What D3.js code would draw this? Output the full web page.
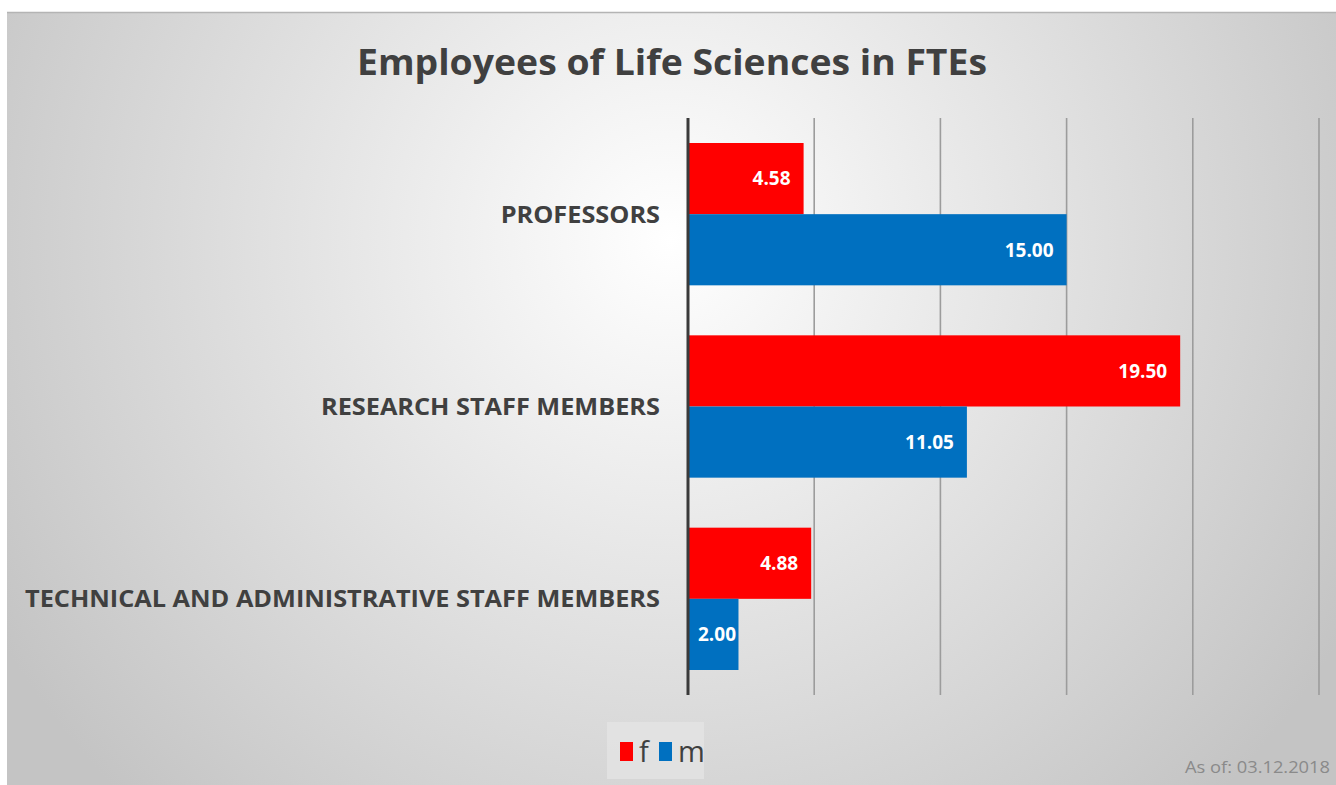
<!DOCTYPE html>
<html>
<head>
<meta charset="utf-8">
<script src="https://cdn.jsdelivr.net/npm/d3@7"></script>
<style>
  body { margin: 0; background: #fff; }
  svg { display: block; }
</style>
</head>
<body>
<svg id="chart"></svg>
<script>
// chart values
var categories = ['PROFESSORS', 'RESEARCH STAFF MEMBERS', 'TECHNICAL AND ADMINISTRATIVE STAFF MEMBERS'];
var seriesNames = ['f', 'm'];
var femaleValues = [4.58, 19.50, 4.88];
var maleValues = [15.00, 11.05, 2.00];
var gridTicks = [0, 5, 10, 15, 20, 25];
var colors = { f: '#ff0000', m: '#0070c0' };

var width = 1336, height = 785;
var svg = d3.select('#chart').attr('width', width).attr('height', height);
var textColor = '#404040';

// panel background, radial grey gradient
var defs = svg.append('defs');
var grad = defs.append('radialGradient')
  .attr('id', 'bg')
  .attr('gradientUnits', 'userSpaceOnUse')
  .attr('cx', 670).attr('cy', 240).attr('r', 780);
grad.append('stop').attr('offset', '0%').attr('stop-color', '#ffffff');
grad.append('stop').attr('offset', '100%').attr('stop-color', '#c4c4c4');

svg.append('rect')
  .attr('x', 7).attr('y', 12)
  .attr('width', width - 7).attr('height', height - 12)
  .attr('fill', 'url(#bg)');
svg.append('line')
  .attr('x1', 7).attr('x2', width).attr('y1', 12.5).attr('y2', 12.5)
  .attr('stroke', '#b4b4b4').attr('stroke-width', 1.5);

// title
svg.append('text')
  .attr('x', 672).attr('y', 75)
  .attr('text-anchor', 'middle')
  .attr('font-family', 'Open Sans, sans-serif')
  .attr('font-weight', 'bold')
  .attr('font-size', 36)
  .attr('fill', textColor)
  .attr('textLength', 630)
  .attr('lengthAdjust', 'spacingAndGlyphs')
  .text('Employees of Life Sciences in FTEs');

// scales
var plot = { l: 688, r: 1319, t: 118, b: 695 };
var x = d3.scaleLinear().domain([0, 25]).range([plot.l, plot.r]);
var y = d3.scaleBand().domain(categories).range([plot.t, plot.b]).paddingInner(0.26).paddingOuter(0.13);
var ySub = d3.scaleBand().domain(seriesNames).range([0, y.bandwidth()]);

// gridlines
svg.append('g')
  .selectAll('line')
  .data(gridTicks.slice(1))
  .enter()
  .append('line')
  .attr('x1', function(d) { return x(d); })
  .attr('x2', function(d) { return x(d); })
  .attr('y1', plot.t).attr('y2', plot.b)
  .attr('stroke', '#9c9c9c').attr('stroke-width', 1.6);

// bars
var rows = categories.map(function(c, i) {
  return { cat: c, f: femaleValues[i], m: maleValues[i] };
});

var groups = svg.append('g').selectAll('g')
  .data(rows)
  .enter()
  .append('g')
  .attr('transform', function(d) { return 'translate(0,' + y(d.cat) + ')'; });

groups.selectAll('rect')
  .data(function(d) { return seriesNames.map(function(s) { return { key: s, value: d[s] }; }); })
  .enter()
  .append('rect')
  .attr('x', x(0))
  .attr('y', function(d) { return ySub(d.key); })
  .attr('width', function(d) { return x(d.value) - x(0); })
  .attr('height', ySub.bandwidth())
  .attr('fill', function(d) { return colors[d.key]; });

groups.selectAll('text.val')
  .data(function(d) { return seriesNames.map(function(s) { return { key: s, value: d[s] }; }); })
  .enter()
  .append('text')
  .attr('class', 'val')
  .attr('x', function(d) { return Math.max(x(d.value) - 13, x(0) + 48); })
  .attr('y', function(d) { return ySub(d.key) + ySub.bandwidth() / 2; })
  .attr('dy', '0.36em')
  .attr('text-anchor', 'end')
  .attr('font-family', 'Open Sans, sans-serif')
  .attr('font-weight', 'bold')
  .attr('font-size', 19)
  .attr('fill', '#fff')
  .text(function(d) { return d.value.toFixed(2); });

// category labels, stretched a little to the Calibri-like widths of the original
var catLabels = svg.append('g').selectAll('text')
  .data(categories)
  .enter()
  .append('text')
  .attr('x', 660)
  .attr('y', function(d) { return y(d) + y.bandwidth() / 2; })
  .attr('dy', '0.36em')
  .attr('text-anchor', 'end')
  .attr('font-family', 'Open Sans, sans-serif')
  .attr('font-weight', 'bold')
  .attr('font-size', 24)
  .attr('fill', textColor)
  .text(function(d) { return d; });
var longest = d3.max(catLabels.nodes(), function(n) { return n.getComputedTextLength(); });
var k = 635 / longest;
catLabels.each(function() {
  d3.select(this)
    .attr('textLength', this.getComputedTextLength() * k)
    .attr('lengthAdjust', 'spacingAndGlyphs');
});

// axis line
svg.append('line')
  .attr('x1', x(0)).attr('x2', x(0))
  .attr('y1', plot.t).attr('y2', plot.b)
  .attr('stroke', '#3a3a3a').attr('stroke-width', 3);

// legend
var legend = svg.append('g').attr('transform', 'translate(607,722)');
legend.append('rect')
  .attr('width', 97).attr('height', 57)
  .attr('fill', '#e4e4e4').attr('opacity', 0.8);
var items = legend.selectAll('g')
  .data(seriesNames)
  .enter()
  .append('g')
  .attr('transform', function(d, i) { return 'translate(' + (13 + i * 39) + ',0)'; });
items.append('rect')
  .attr('y', 20).attr('width', 13).attr('height', 19)
  .attr('fill', function(d) { return colors[d]; });
items.append('text')
  .attr('x', 19).attr('y', 40)
  .attr('font-family', 'Open Sans, sans-serif')
  .attr('font-size', 29)
  .attr('fill', textColor)
  .text(function(d) { return d; });

// date note
svg.append('text')
  .attr('x', 1330).attr('y', 773)
  .attr('text-anchor', 'end')
  .attr('font-family', 'Open Sans, sans-serif')
  .attr('font-size', 17)
  .attr('fill', '#8a8a8a')
  .attr('textLength', 145)
  .attr('lengthAdjust', 'spacingAndGlyphs')
  .text('As of: 03.12.2018');
</script>
</body>
</html>
